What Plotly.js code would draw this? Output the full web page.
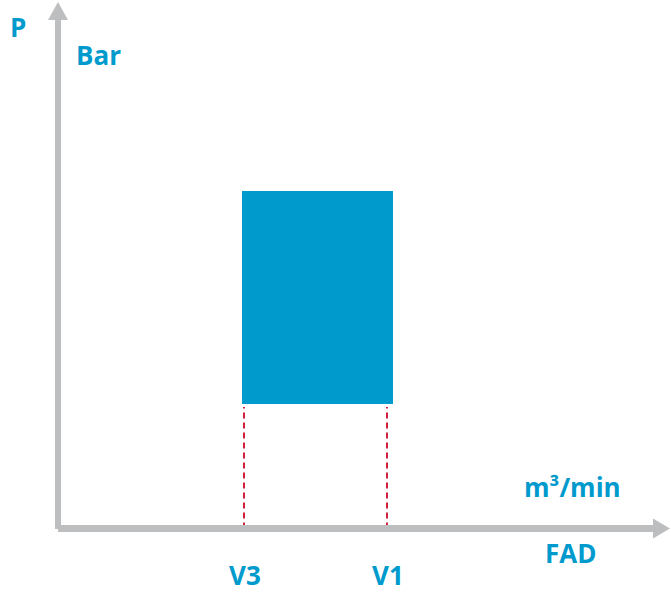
<!DOCTYPE html>
<html>
<head>
<meta charset="utf-8">
<script src="https://cdn.plot.ly/plotly-3.0.1.min.js"></script>
<style>html,body{margin:0;padding:0;background:#fff;}#chart{width:671px;height:594px;}</style>
</head>
<body>
<div id="chart"></div>
<script>
// Data (FAD on x, pressure on y, origin at the axis corner)
const vLabels = ['V3', 'V1'];
const vFAD = [186, 329];            // FAD positions of V3 and V1
const boxFAD = [184, 335];          // FAD span of the operating area
const boxP = [124.5, 337.5];        // pressure span of the operating area
const axisLabels = {y: 'P', yUnit: 'Bar', x: 'FAD', xUnit: 'm³/min'};

const X_RANGE = [-58, 613];
const Y_RANGE = [-65.5, 528.5];
const BLUE = '#009acd';
const GREY = '#bcbec0';
const RED = '#d21f3c';

const traces = [];
// operating area rectangle
traces.push({
  type: 'scatter', mode: 'lines', fill: 'toself', fillcolor: BLUE,
  x: [boxFAD[0], boxFAD[1], boxFAD[1], boxFAD[0], boxFAD[0]],
  y: [boxP[0], boxP[0], boxP[1], boxP[1], boxP[0]],
  line: {width: 0, color: BLUE}, hoverinfo: 'skip', showlegend: false
});
// dashed drop lines
vFAD.forEach(v => {
  traces.push({
    type: 'scatter', mode: 'lines', x: [v, v], y: [0, boxP[0] - 3],
    line: {color: RED, width: 2, dash: '6px,4px'}, hoverinfo: 'skip', showlegend: false
  });
});
// axes with arrowheads
const yTip = Y_RANGE[1] - 2, yHead = Y_RANGE[1] - 20;
const xTip = X_RANGE[1] - 1, xHead = X_RANGE[1] - 18;
traces.push({type: 'scatter', mode: 'lines', x: [0, 0], y: [-0.5, yHead + 1],
  line: {color: GREY, width: 6}, hoverinfo: 'skip', showlegend: false});
traces.push({type: 'scatter', mode: 'lines', x: [0, xHead + 1], y: [0, 0],
  line: {color: GREY, width: 7}, hoverinfo: 'skip', showlegend: false});
traces.push({type: 'scatter', mode: 'lines', fill: 'toself', fillcolor: GREY,
  x: [-10, 10, 0, -10], y: [yHead, yHead, yTip, yHead],
  line: {width: 0, color: GREY}, hoverinfo: 'skip', showlegend: false});
traces.push({type: 'scatter', mode: 'lines', fill: 'toself', fillcolor: GREY,
  x: [xHead, xTip, xHead, xHead], y: [10, 0, -10, 10],
  line: {width: 0, color: GREY}, hoverinfo: 'skip', showlegend: false});

const font = {family: '"Open Sans", Lato, sans-serif', size: 26, color: BLUE, weight: 800};
const ann = (text, x, y) => ({text: '<b>' + text + '</b>', x: x, y: y, xref: 'x', yref: 'y',
  showarrow: false, font: font, xanchor: 'center', yanchor: 'middle', borderpad: 0});
const annotations = [
  ann(axisLabels.y, -40, 502),
  ann(axisLabels.yUnit, 40, 474),
  ann(axisLabels.xUnit, 514, 42),
  ann(axisLabels.x, 512, -24),
];
vLabels.forEach((l, i) => annotations.push(ann(l, vFAD[i] + 1, -46.5)));

const layout = {
  width: 671, height: 594,
  margin: {l: 0, r: 0, t: 0, b: 0, pad: 0},
  paper_bgcolor: '#ffffff', plot_bgcolor: '#ffffff',
  showlegend: false,
  xaxis: {range: X_RANGE, visible: false, fixedrange: true},
  yaxis: {range: Y_RANGE, visible: false, fixedrange: true},
  annotations: annotations
};
Plotly.newPlot('chart', traces, layout, {displayModeBar: false, staticPlot: true});
</script>
</body>
</html>
